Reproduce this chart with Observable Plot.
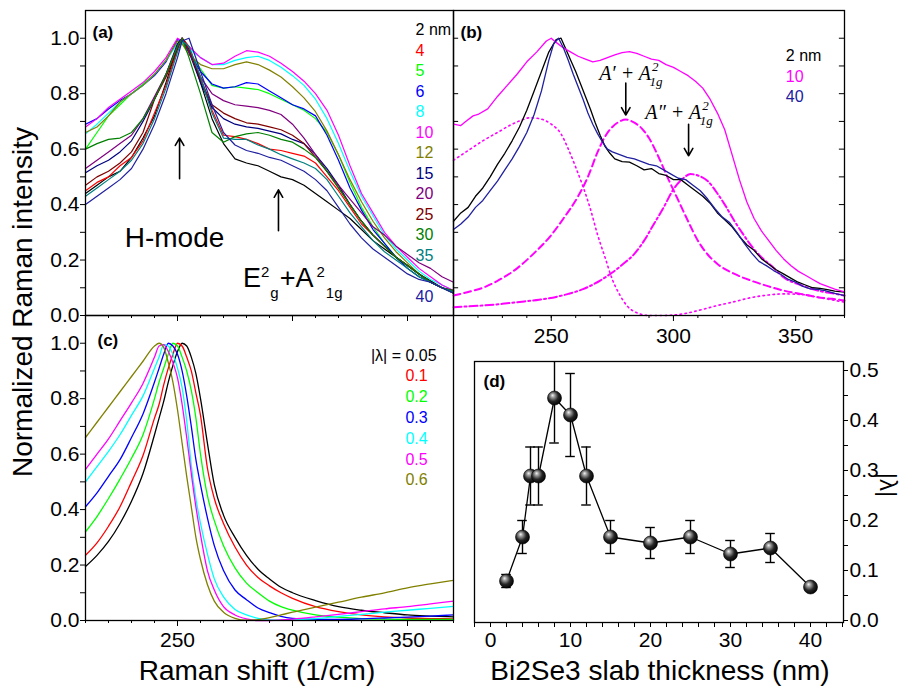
<!DOCTYPE html>
<html><head><meta charset="utf-8">
<script src="https://cdn.jsdelivr.net/npm/d3@7"></script>
<script src="https://cdn.jsdelivr.net/npm/@observablehq/plot@0.6"></script>
<style>
html,body{margin:0;padding:0;background:#fff;}
#chart{position:relative;width:906px;height:686px;overflow:hidden;font-family:'Liberation Sans',Arial,sans-serif;}
#chart svg{position:absolute;}
</style></head>
<body><div id="chart"></div>
<script>
// ---------------- Panel (a): measured spectra ----------------
const ramanShiftA = [210,215,220,225,230,235,240,245,250,252,255,260,265,270,275,280,285,290,295,300,305,310,315,320,325,330,335,340,345,350,355,360,365,370];
const a2nm  = [0.44,0.47,0.50,0.52,0.57,0.64,0.72,0.84,0.97,1.0,0.97,0.84,0.71,0.62,0.565,0.55,0.54,0.52,0.50,0.49,0.47,0.44,0.41,0.38,0.35,0.31,0.27,0.24,0.21,0.18,0.15,0.125,0.10,0.085];
const a4nm  = [0.45,0.48,0.50,0.54,0.57,0.63,0.73,0.83,0.96,1.0,0.97,0.86,0.74,0.65,0.645,0.635,0.62,0.60,0.595,0.585,0.575,0.55,0.50,0.45,0.39,0.33,0.29,0.25,0.21,0.18,0.15,0.12,0.10,0.09];
const a5nm  = [0.60,0.66,0.72,0.76,0.80,0.835,0.87,0.92,0.99,0.98,0.95,0.89,0.83,0.82,0.825,0.82,0.815,0.80,0.78,0.76,0.74,0.71,0.66,0.58,0.48,0.39,0.32,0.26,0.21,0.17,0.14,0.12,0.10,0.08];
const a6nm  = [0.69,0.71,0.745,0.775,0.80,0.83,0.865,0.915,0.995,0.99,0.95,0.88,0.835,0.82,0.825,0.84,0.835,0.81,0.785,0.76,0.745,0.72,0.65,0.56,0.46,0.38,0.31,0.26,0.21,0.17,0.14,0.12,0.10,0.08];
const a8nm  = [0.655,0.69,0.73,0.77,0.80,0.83,0.87,0.92,0.98,0.985,0.96,0.93,0.905,0.905,0.92,0.93,0.935,0.92,0.895,0.865,0.83,0.78,0.71,0.62,0.52,0.43,0.36,0.29,0.24,0.20,0.16,0.13,0.11,0.09];
const a10nm = [0.68,0.71,0.75,0.78,0.81,0.84,0.88,0.93,1.0,0.99,0.97,0.93,0.905,0.91,0.935,0.955,0.95,0.935,0.91,0.88,0.845,0.80,0.74,0.65,0.54,0.44,0.37,0.30,0.25,0.21,0.17,0.14,0.11,0.09];
const a12nm = [0.66,0.68,0.72,0.77,0.80,0.83,0.87,0.92,0.99,0.98,0.94,0.905,0.89,0.89,0.905,0.915,0.905,0.885,0.86,0.825,0.785,0.735,0.665,0.58,0.49,0.41,0.34,0.28,0.23,0.19,0.15,0.12,0.10,0.08];
const a15nm = [0.515,0.54,0.56,0.59,0.63,0.70,0.78,0.87,0.98,1.0,0.95,0.84,0.75,0.71,0.69,0.68,0.675,0.665,0.655,0.635,0.62,0.58,0.53,0.47,0.40,0.34,0.29,0.25,0.21,0.18,0.15,0.12,0.10,0.085];
const a20nm = [0.53,0.56,0.59,0.62,0.65,0.71,0.79,0.87,0.97,1.0,0.95,0.86,0.80,0.775,0.76,0.755,0.75,0.74,0.725,0.69,0.64,0.58,0.52,0.47,0.42,0.37,0.32,0.29,0.25,0.22,0.19,0.17,0.14,0.12];
const a25nm = [0.47,0.50,0.52,0.55,0.59,0.66,0.78,0.86,0.96,1.0,0.96,0.85,0.76,0.73,0.71,0.695,0.69,0.68,0.67,0.65,0.62,0.57,0.52,0.46,0.40,0.34,0.29,0.25,0.21,0.18,0.15,0.12,0.10,0.09];
const a30nm = [0.60,0.62,0.635,0.64,0.66,0.71,0.78,0.87,0.97,1.0,0.93,0.80,0.66,0.625,0.645,0.655,0.66,0.65,0.635,0.625,0.60,0.57,0.52,0.46,0.40,0.34,0.29,0.25,0.21,0.18,0.15,0.12,0.10,0.09];
const a35nm = [0.43,0.46,0.49,0.52,0.56,0.62,0.71,0.82,0.95,0.99,0.97,0.86,0.73,0.64,0.635,0.635,0.615,0.60,0.58,0.565,0.55,0.53,0.49,0.43,0.37,0.32,0.27,0.23,0.20,0.17,0.14,0.12,0.10,0.085];
const a40nm = [0.40,0.43,0.46,0.49,0.53,0.60,0.69,0.80,0.93,0.99,1.0,0.88,0.76,0.66,0.615,0.595,0.585,0.57,0.56,0.54,0.52,0.49,0.45,0.39,0.33,0.28,0.24,0.21,0.18,0.15,0.13,0.12,0.10,0.08];
const thicknessLabelsA = ["2 nm","4","5","6","8","10","12","15","20","25","30","35","40"];
const colorsA = ["#000000","#ff0000","#00ff00","#0000ff","#00ffff","#ff00ff","#808000","#000080","#800080","#800000","#008000","#008080","#2020a0"];
const seriesA = [a2nm,a4nm,a5nm,a6nm,a8nm,a10nm,a12nm,a15nm,a20nm,a25nm,a30nm,a35nm,a40nm];

// ---------------- Panel (b): 2, 10, 40 nm and fit components ----------------
const shiftB2 = [210,213,216,219,222,225,228,231,234,237,240,243,246,249,252,254,256,258,260,262,264,266,268,270,272,274,276,279,282,285,288,291,294,297,300,303,306,309,312,315,318,321,324,327,330,333,336,339,342,345,348,351,354,357,360,363,366,370];
const intB2  = [0.34,0.37,0.39,0.43,0.46,0.50,0.545,0.585,0.63,0.68,0.74,0.81,0.88,0.95,0.995,1.0,0.96,0.92,0.88,0.835,0.79,0.745,0.695,0.65,0.61,0.585,0.565,0.555,0.553,0.54,0.525,0.53,0.512,0.505,0.49,0.49,0.47,0.45,0.43,0.405,0.37,0.345,0.32,0.285,0.255,0.235,0.205,0.185,0.165,0.15,0.135,0.12,0.11,0.10,0.098,0.093,0.088,0.084];
const shiftB10 = [210,213,215,218,220,224,228,232,236,240,244,248,250,252,255,258,261,264,267,270,273,276,279,282,285,288,291,294,297,300,303,306,309,312,315,318,321,324,327,330,333,336,339,342,345,348,351,354,357,360,363,366,370];
const intB10 = [0.69,0.685,0.70,0.72,0.725,0.745,0.79,0.83,0.87,0.915,0.95,0.99,1.0,0.985,0.965,0.95,0.935,0.925,0.915,0.92,0.93,0.94,0.948,0.952,0.945,0.935,0.925,0.92,0.905,0.895,0.88,0.865,0.845,0.82,0.78,0.73,0.67,0.58,0.49,0.41,0.35,0.305,0.27,0.235,0.205,0.18,0.16,0.145,0.13,0.115,0.105,0.095,0.085];
const shiftB40 = [210,213,216,219,222,225,228,231,234,237,240,243,246,249,251,253,255,257,259,261,263,265,267,269,271,273,275,278,281,284,287,290,293,296,299,302,305,308,311,314,317,320,323,326,329,332,335,338,341,344,347,350,353,356,359,362,366,370];
const intB40 = [0.31,0.33,0.355,0.39,0.415,0.45,0.485,0.525,0.565,0.61,0.66,0.725,0.81,0.92,0.98,1.0,0.965,0.92,0.87,0.825,0.78,0.73,0.69,0.655,0.625,0.60,0.59,0.58,0.57,0.565,0.555,0.545,0.54,0.525,0.51,0.495,0.49,0.47,0.45,0.42,0.385,0.355,0.335,0.30,0.26,0.225,0.195,0.18,0.162,0.148,0.13,0.12,0.105,0.096,0.094,0.09,0.08,0.072];
const fitDotX = [210,216,222,228,234,238,241,245,250,254,257,260,263,266,269,272,275,278,281,285,290,295,304,311,318,325,332,339,345,352,359,365,370];
const fitDotY = [0.56,0.595,0.63,0.66,0.69,0.705,0.713,0.71,0.69,0.655,0.60,0.535,0.465,0.385,0.29,0.21,0.13,0.075,0.035,0.01,0.0,0.0,0.006,0.02,0.036,0.05,0.065,0.074,0.078,0.076,0.066,0.056,0.048];
const fitDashX = [210,216,222,228,236,243,250,255,261,265,269,272,275,278,280.5,283,287,290,294,298,302,306,310,314,318,325,332,339,345,352,359,365,370];
const fitDashY = [0.072,0.085,0.10,0.125,0.17,0.225,0.29,0.35,0.43,0.50,0.59,0.645,0.68,0.70,0.707,0.70,0.675,0.64,0.57,0.49,0.415,0.34,0.27,0.22,0.186,0.15,0.125,0.105,0.09,0.078,0.066,0.06,0.054];
const fitDashDotX = [210,220,230,236,245,252,257,263,270,275,280,284,288,292,296,300,304,307,310,314,318,321,325,328,332,336,340,345,352,359,365,370];
const fitDashDotY = [0.03,0.035,0.042,0.048,0.057,0.067,0.078,0.095,0.126,0.155,0.19,0.222,0.27,0.33,0.39,0.455,0.495,0.51,0.505,0.485,0.44,0.40,0.34,0.30,0.25,0.21,0.18,0.138,0.11,0.09,0.08,0.072];
const legendLabelsB = ["2 nm","10","40"];
const colorsB = ["#000000","#ff00ff","#2020a0"];

// ---------------- Panel (c): model line shapes ----------------
const ramanShiftC = [210,215,220,225,230,235,240,242,244,246,248,250,252,254,256,258,260,263,266,270,275,280,285,290,295,300,310,320,330,340,350,360,370];
const c005 = [0.195,0.235,0.285,0.35,0.43,0.53,0.67,0.73,0.79,0.86,0.92,0.97,1.0,0.99,0.95,0.89,0.80,0.64,0.49,0.38,0.30,0.235,0.185,0.15,0.12,0.10,0.072,0.05,0.037,0.028,0.02,0.016,0.013];
const c01  = [0.235,0.28,0.34,0.41,0.50,0.595,0.73,0.78,0.85,0.91,0.96,1.0,0.99,0.95,0.90,0.82,0.74,0.55,0.44,0.35,0.265,0.20,0.155,0.125,0.10,0.08,0.05,0.032,0.02,0.013,0.009,0.007,0.006];
const c02  = [0.32,0.375,0.44,0.51,0.585,0.67,0.80,0.86,0.91,0.96,1.0,0.99,0.95,0.90,0.83,0.73,0.60,0.45,0.36,0.27,0.19,0.135,0.10,0.07,0.05,0.037,0.02,0.012,0.007,0.005,0.004,0.004,0.004];
const c03  = [0.41,0.46,0.52,0.58,0.66,0.745,0.86,0.91,0.96,1.0,0.99,0.96,0.90,0.81,0.70,0.58,0.49,0.37,0.27,0.18,0.11,0.075,0.045,0.028,0.015,0.008,0.004,0.004,0.006,0.009,0.012,0.016,0.02];
const c04  = [0.50,0.555,0.61,0.67,0.74,0.81,0.91,0.95,0.995,0.99,0.96,0.91,0.84,0.72,0.56,0.44,0.35,0.24,0.15,0.085,0.04,0.02,0.008,0.002,0.001,0.002,0.007,0.015,0.022,0.03,0.037,0.044,0.051];
const c05  = [0.545,0.60,0.655,0.72,0.785,0.855,0.95,0.99,0.995,0.97,0.93,0.875,0.78,0.66,0.53,0.41,0.31,0.18,0.11,0.05,0.02,0.006,0.0,0.0,0.002,0.005,0.013,0.022,0.032,0.042,0.05,0.06,0.07];
const c06  = [0.66,0.715,0.77,0.825,0.88,0.935,0.99,1.0,0.985,0.93,0.86,0.76,0.64,0.52,0.41,0.30,0.22,0.13,0.07,0.03,0.008,0.001,0.003,0.01,0.02,0.03,0.048,0.066,0.084,0.10,0.118,0.132,0.145];
const lambdaLabelsC = ["0.05","0.1","0.2","0.3","0.4","0.5","0.6"];
const colorsC = ["#000000","#ff0000","#00ff00","#0000ff","#00ffff","#ff00ff","#808000"];
const seriesC = [c005,c01,c02,c03,c04,c05,c06];

// ---------------- Panel (d): |lambda| vs thickness ----------------
const thicknessD = [2,4,5,6,8,10,12,15,20,25,30,35,40];
const lambdaD    = [0.079,0.167,0.289,0.289,0.445,0.411,0.289,0.167,0.155,0.167,0.133,0.145,0.067];
const lambdaErrD = [0.013,0.033,0.058,0.058,0.09,0.083,0.058,0.033,0.031,0.033,0.027,0.029,0.006];

// ---------------- build tables ----------------
const dataA = seriesA.flatMap((vals, i) => vals.map((v, j) => ({x: ramanShiftA[j], y: v, s: thicknessLabelsA[i]})));
const dataB = [
  ...shiftB2.map((x, j) => ({x, y: intB2[j], s: "2 nm"})),
  ...shiftB10.map((x, j) => ({x, y: intB10[j], s: "10"})),
  ...shiftB40.map((x, j) => ({x, y: intB40[j], s: "40"}))
];
const dotB = fitDotX.map((x, j) => ({x, y: fitDotY[j]}));
const dashB = fitDashX.map((x, j) => ({x, y: fitDashY[j]}));
const dashDotB = fitDashDotX.map((x, j) => ({x, y: fitDashDotY[j]}));
const dataC = seriesC.flatMap((vals, i) => vals.map((v, j) => ({x: ramanShiftC[j], y: v, s: lambdaLabelsC[i]})));
const dataD = thicknessD.map((t, i) => ({t, l: lambdaD[i], e: lambdaErrD[i]}));

const FONT = "'Liberation Sans', Arial, sans-serif";
const SERIF = "'Liberation Serif', 'Times New Roman', serif";
const baseStyle = {fontFamily: FONT, background: "transparent", overflow: "visible", color: "#000"};
const chart = document.getElementById("chart");
function place(svg, left, top) {
  svg.style.position = "absolute"; svg.style.left = left + "px"; svg.style.top = top + "px";
  chart.appendChild(svg); return svg;
}
function richText(svg, x, y, parts, attrs) {
  const px = svg.scale("x").apply(x), py = svg.scale("y").apply(y);
  const t = d3.select(svg).append("text").attr("x", px).attr("y", py).attr("text-anchor", "start");
  for (const [k, v] of Object.entries(attrs)) t.attr(k, v);
  for (const p of parts) {
    const s = t.append("tspan").text(p.t).attr("font-size", p.size);
    if (p.dx) s.attr("dx", p.dx);
    if (p.dy) s.attr("dy", p.dy);
  }
}
const yTicks01 = d3.range(0, 11).map(i => i / 10);
const yFmt = d => (Math.round(d * 10) % 2 === 0 ? d.toFixed(1) : "");
const xMinor = d3.range(21, 38).map(i => i * 10);
const xMajor = [250, 300, 350];
const none = () => "";

// ---- (a)
const plotA = Plot.plot({
  width: 460, height: 330, marginLeft: 85, marginRight: 7, marginTop: 10, marginBottom: 15,
  style: baseStyle,
  x: {domain: [210, 370]}, y: {domain: [0, 1.1]},
  color: {domain: thicknessLabelsA, range: colorsA},
  marks: [
    Plot.line(dataA, {x: "x", y: "y", z: "s", stroke: "s", strokeWidth: 1.2}),
    Plot.axisY({ticks: yTicks01, tickSize: 5, tickPadding: 1, fontSize: 21, tickFormat: yFmt, label: null}),
    Plot.axisX({ticks: xMinor, tickSize: 3, tickFormat: none, label: null}),
    Plot.axisX({ticks: xMajor, tickSize: 6, tickFormat: none, label: null}),
    Plot.frame({strokeWidth: 1.3}),
    Plot.arrow([{x: 250.9, y1: 0.493, y2: 0.64}, {x: 293.9, y1: 0.306, y2: 0.453}],
      {x1: "x", x2: "x", y1: "y1", y2: "y2", stroke: "#000", strokeWidth: 1.6, headLength: 8}),
    Plot.text(["H-mode"], {x: 248.7, y: 0.281, text: d => d, fontSize: 28, textAnchor: "middle", lineAnchor: "middle"}),
    Plot.text(thicknessLabelsA, {x: 353.5, y: (d, i) => 1.03 - (i < 12 ? i : 13) * 0.0741, text: d => d, fill: d => d,
      fontSize: 16, textAnchor: "start", lineAnchor: "middle"}),
    Plot.text(["(a)"], {frameAnchor: "top-left", dx: 7, dy: 22, text: d => d, fontWeight: "bold", fontSize: 17, textAnchor: "start", lineAnchor: "middle"})
  ]
});
place(plotA, 0, 0);
richText(plotA, 278.7, 0.1007, [
  {t: "E", size: 27}, {t: "2", size: 15, dx: 0, dy: -10}, {t: "g", size: 15, dx: 1, dy: 21},
  {t: "+A", size: 27, dx: 1, dy: -11}, {t: "2", size: 15, dx: 3, dy: -10}, {t: "1g", size: 15, dx: 1, dy: 21}
], {"font-family": FONT, fill: "#000"});

// ---- (b)
const plotB = Plot.plot({
  width: 506, height: 350, marginLeft: 53, marginRight: 62, marginTop: 10, marginBottom: 35,
  style: baseStyle,
  x: {domain: [210, 370]}, y: {domain: [0, 1.1], axis: null},
  color: {domain: legendLabelsB, range: colorsB},
  marks: [
    Plot.line(dotB, {x: "x", y: "y", stroke: "#ff00ff", strokeWidth: 1.6, strokeDasharray: "1.5,3.5", curve: "monotone-x"}),
    Plot.line(dashB, {x: "x", y: "y", stroke: "#ff00ff", strokeWidth: 2, strokeDasharray: "7,4", curve: "monotone-x"}),
    Plot.line(dashDotB, {x: "x", y: "y", stroke: "#ff00ff", strokeWidth: 2, strokeDasharray: "8,3,2,3", curve: "monotone-x"}),
    Plot.line(dataB, {x: "x", y: "y", z: "s", stroke: "s", strokeWidth: 1.3}),
    Plot.ruleY(yTicks01, {y: d => d, x1: 210, x2: 212.1, strokeWidth: 1}),
    Plot.ruleY(yTicks01, {y: d => d, x1: 367.9, x2: 370, strokeWidth: 1}),
    Plot.axisX({ticks: xMinor, tickSize: 3, tickFormat: none, label: null}),
    Plot.axisX({ticks: xMajor, tickSize: 6, tickPadding: 7, fontSize: 21, label: null}),
    Plot.frame({strokeWidth: 1.3}),
    Plot.arrow([{x: 280.5, y1: 0.838, y2: 0.723}, {x: 306.2, y1: 0.69, y2: 0.576}],
      {x1: "x", x2: "x", y1: "y1", y2: "y2", stroke: "#000", strokeWidth: 1.6, headLength: 8}),
    Plot.text(legendLabelsB, {x: 346, y: (d, i) => 0.935 - i * 0.0735, text: d => d, fill: d => d,
      fontSize: 16, textAnchor: "start", lineAnchor: "middle"}),
    Plot.text(["(b)"], {frameAnchor: "top-left", dx: 7, dy: 22, text: d => d, fontWeight: "bold", fontSize: 17, textAnchor: "start", lineAnchor: "middle"})
  ]
});
place(plotB, 400, 0);
richText(plotB, 269.8, 0.849, [
  {t: "A\u2032 + A", size: 20}, {t: "2", size: 13, dx: 1, dy: -9}, {t: "1g", size: 13, dx: -9, dy: 15}
], {"font-family": SERIF, "font-style": "italic", fill: "#000"});
richText(plotB, 288.7, 0.7075, [
  {t: "A\u2033 + A", size: 20}, {t: "2", size: 13, dx: 1, dy: -9}, {t: "1g", size: 13, dx: -9, dy: 15}
], {"font-family": SERIF, "font-style": "italic", fill: "#000"});

// ---- (c)
const plotC = Plot.plot({
  width: 460, height: 381, marginLeft: 85, marginRight: 7, marginTop: 10, marginBottom: 66,
  style: baseStyle,
  x: {domain: [210, 370]}, y: {domain: [0, 1.1]},
  color: {domain: lambdaLabelsC, range: colorsC},
  marks: [
    Plot.line(dataC, {x: "x", y: "y", z: "s", stroke: "s", strokeWidth: 1.3, curve: "monotone-x"}),
    Plot.axisY({ticks: yTicks01, tickSize: 5, tickPadding: 1, fontSize: 21, tickFormat: yFmt, label: null}),
    Plot.axisX({ticks: xMinor, tickSize: 3, tickFormat: none, label: null}),
    Plot.axisX({ticks: xMajor, tickSize: 6, tickPadding: 6, fontSize: 21, label: null}),
    Plot.frame({strokeWidth: 1.3}),
    Plot.text(["|\u03bb| = "], {x: 349.1, y: 0.956, text: d => d, fontSize: 16, textAnchor: "end", lineAnchor: "middle"}),
    Plot.text(lambdaLabelsC, {x: 349.1, y: (d, i) => 0.956 - i * 0.075, text: d => d, fill: d => d,
      fontSize: 16, textAnchor: "start", lineAnchor: "middle"}),
    Plot.text(["(c)"], {frameAnchor: "top-left", dx: 12, dy: 25, text: d => d, fontWeight: "bold", fontSize: 17, textAnchor: "start", lineAnchor: "middle"})
  ]
});
place(plotC, 0, 305);

// ---- (d)
const plotD = Plot.plot({
  width: 456, height: 346, marginLeft: 24, marginRight: 63, marginTop: 21, marginBottom: 64,
  style: baseStyle,
  x: {domain: [-2, 44.125]}, y: {domain: [-0.004, 0.518]},
  marks: [
    Plot.ruleX(dataD, {x: "t", y1: d => d.l - d.e, y2: d => d.l + d.e, strokeWidth: 1.4, clip: true}),
    Plot.ruleY(dataD, {y: d => d.l + d.e, x1: d => d.t - 0.6, x2: d => d.t + 0.6, strokeWidth: 1.4, clip: true}),
    Plot.ruleY(dataD, {y: d => d.l - d.e, x1: d => d.t - 0.6, x2: d => d.t + 0.6, strokeWidth: 1.4, clip: true}),
    Plot.line(dataD, {x: "t", y: "l", strokeWidth: 1.3}),
    Plot.dot(dataD, {x: "t", y: "l", r: 7, fill: "url(#ball)", stroke: "#000", strokeWidth: 0.6}),
    Plot.axisY({anchor: "right", ticks: d3.range(0, 11).map(i => i * 0.05), tickSize: 4, tickPadding: 2, fontSize: 21,
      tickFormat: d => (Math.round(d * 100) % 10 === 0 ? d.toFixed(1) : ""), label: null}),
    Plot.axisX({ticks: d3.range(-1, 23).map(i => i * 2), tickSize: 5, tickPadding: 5, fontSize: 21,
      tickFormat: d => (d % 10 === 0 ? String(d) : ""), label: null}),
    Plot.frame({strokeWidth: 1.3}),
    Plot.text(["(d)"], {frameAnchor: "top-left", dx: 9, dy: 20, text: d => d, fontWeight: "bold", fontSize: 17, textAnchor: "start", lineAnchor: "middle"})
  ]
});
place(plotD, 450, 340);
{
  const defs = d3.select(plotD).insert("defs", ":first-child");
  const g = defs.append("radialGradient").attr("id", "ball")
    .attr("cx", "0.42").attr("cy", "0.42").attr("r", "0.62").attr("fx", "0.36").attr("fy", "0.3");
  g.append("stop").attr("offset", "0").attr("stop-color", "#f4f4f4");
  g.append("stop").attr("offset", "0.22").attr("stop-color", "#a0a0a0");
  g.append("stop").attr("offset", "0.6").attr("stop-color", "#262626");
  g.append("stop").attr("offset", "1").attr("stop-color", "#000");
}

// ---- shared axis titles
const over = d3.select(chart).append("svg").attr("width", 906).attr("height", 686)
  .style("left", "0px").style("top", "0px").style("pointer-events", "none")
  .attr("font-family", FONT);
over.append("text").attr("transform", "translate(32,302) rotate(-90)").attr("text-anchor", "middle")
  .attr("font-size", 28).text("Normalized Raman intensity");
over.append("text").attr("x", 257).attr("y", 680).attr("text-anchor", "middle").attr("font-size", 28).text("Raman shift (1/cm)");
over.append("text").attr("x", 660).attr("y", 680).attr("text-anchor", "middle").attr("font-size", 28).text("Bi2Se3 slab thickness (nm)");
over.append("text").attr("transform", "translate(880,485) rotate(90)").attr("text-anchor", "middle")
  .attr("font-size", 24).text("|\u03bb|");
</script>
</body></html>
